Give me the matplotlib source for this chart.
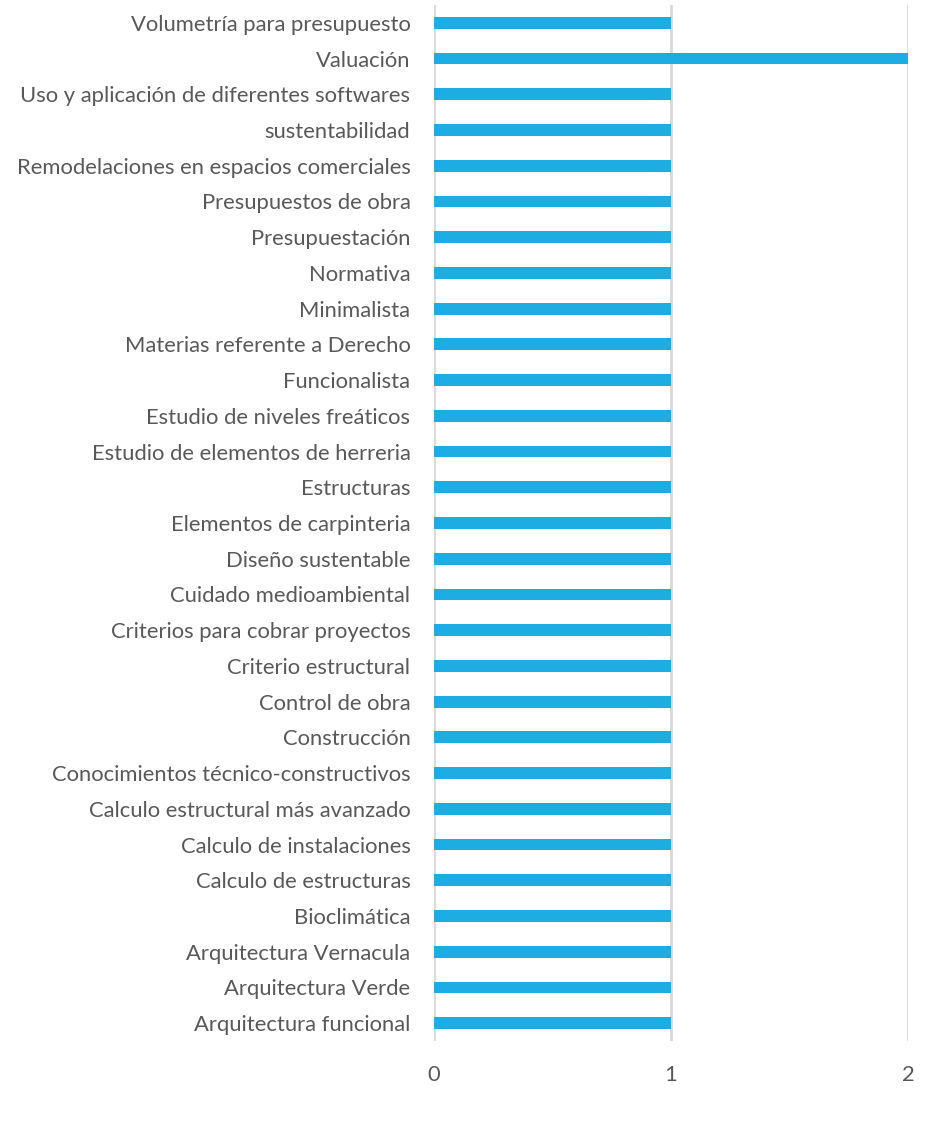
import matplotlib
matplotlib.use("Agg")
import matplotlib.pyplot as plt

categories = [
    "Volumetría para presupuesto",
    "Valuación",
    "Uso y aplicación de diferentes softwares",
    "sustentabilidad",
    "Remodelaciones en espacios comerciales",
    "Presupuestos de obra",
    "Presupuestación",
    "Normativa",
    "Minimalista",
    "Materias referente a Derecho",
    "Funcionalista",
    "Estudio de niveles freáticos",
    "Estudio de elementos de herreria",
    "Estructuras",
    "Elementos de carpinteria",
    "Diseño sustentable",
    "Cuidado medioambiental",
    "Criterios para cobrar proyectos",
    "Criterio estructural",
    "Control de obra",
    "Construcción",
    "Conocimientos técnico-constructivos",
    "Calculo estructural más avanzado",
    "Calculo de instalaciones",
    "Calculo de estructuras",
    "Bioclimática",
    "Arquitectura Vernacula",
    "Arquitectura Verde",
    "Arquitectura funcional",
]
values = [1, 2] + [1] * 27
xticks = [0, 1, 2]

plt.rcParams['font.family'] = ['Lato', 'DejaVu Sans']
fig = plt.figure(figsize=(9.44, 11.43), dpi=100)
ax = fig.add_axes([434/944, 1 - 1041/1143, (908-434)/944, (1041-5)/1143])

n = len(categories)
ypos = list(range(n - 1, -1, -1))
ax.barh(ypos, values, height=0.33, color="#1EADE3", zorder=3)
ax.set_ylim(-0.5, n - 0.5)
ax.set_xlim(0, 2)
ax.set_yticks(ypos)
ax.set_yticklabels(categories, fontsize=15.8, color="#595959")
ax.set_xticks(xticks)
ax.set_xticklabels([str(x) for x in xticks], fontsize=15.8, color="#595959")
ax.tick_params(axis='both', length=0)
ax.tick_params(axis='y', pad=17)
ax.tick_params(axis='x', pad=17)
ax.grid(axis='x', color="#D9D9D9", linewidth=2, zorder=0)
for s in ax.spines.values():
    s.set_visible(False)

fig.savefig("out.png", dpi=100)
